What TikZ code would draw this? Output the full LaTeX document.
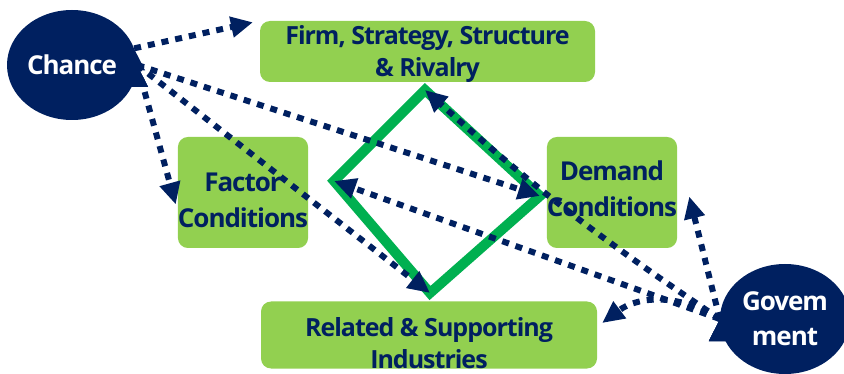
\documentclass[tikz,border=0pt]{standalone}
\usepackage{fontspec}
\setmainfont[LetterSpace=-4]{Open Sans}
\usetikzlibrary{shapes,arrows.meta}
\usepackage{xcolor}
\definecolor{navy}{HTML}{002060}
\definecolor{leaf}{HTML}{92D050}
\definecolor{porterGreen}{HTML}{00B050}

\begin{document}
\begin{tikzpicture}[
  x=1pt,y=-1pt,
  every node/.style={align=center},
  force/.style={ellipse,fill=navy,text=white,inner sep=0pt,minimum width=130pt,
minimum height=110pt,font=\bfseries\fontsize{26}{35}\selectfont},
  determinant/.style={fill=leaf,rounded corners=10pt,text=navy,inner
sep=0pt,font=\bfseries\fontsize{25}{32}\selectfont},
  bigDeterminant/.style={determinant,minimum width=130pt,font=\bfseries\fontsize{26}{36}\selectfont},
  diamondLink/.style={line width=10pt,porterGreen,line join=miter},
  forceToDeterminant/.style={-{Triangle[length=22pt,width=20pt]},line width=6pt,navy,dash
pattern=on 7pt off 7pt}]

  \useasboundingbox (0,0) rectangle (844,374);

  % the four determinants
  \node[determinant,minimum width=335pt,text height=56pt,text depth=5pt] (firm) at (427.5,51.5)
{Firm, Strategy, Structure\\\& Rivalry};
  \node[bigDeterminant,text height=91pt,text depth=20pt] (factor) at (243,192.5) {Factor\\Conditions};
  \node[bigDeterminant,text height=80pt,text depth=31pt] (demand) at (612,192.5) {Demand\\Conditions};
  \node[determinant,minimum width=336pt,text height=67pt,text depth=-3pt] (related) at (429,335)
{Related \& Supporting\\Industries};

  % outside forces
  \node[force] (chance) at (72,65) {Chance};
  \node[force] (govt) at (785,319) {Govem\\ment};

  % the diamond
  \coordinate (dTop) at (425,90);
  \coordinate (dRight) at (540,196);
  \coordinate (dBot) at (430,293);
  \coordinate (dLeft) at (334,181);
  \draw [diamondLink] (dTop) -- (dRight) -- (dBot) -- (dLeft) -- cycle;

  % chance to determinants
  \draw [forceToDeterminant] (chance.15) edge[shorten >=7pt] (firm.north west);
  \draw [forceToDeterminant] (chance.east) edge ([shift={(-2,12)}]factor.west);
  \draw [forceToDeterminant] (chance.east) edge (dBot);
  \draw [forceToDeterminant] (chance.east) edge (dRight);

  % government to determinants
  \draw [forceToDeterminant] (govt.west) edge[bend left=4] (dTop);
  \draw [forceToDeterminant] (govt.west) edge (dLeft);
  \draw [forceToDeterminant] (govt.west) edge ([shift={(12,4)}]demand.east);
  \draw [forceToDeterminant] (govt.west) edge[bend right=35] ([shift={(5,-12)}]related.east);
\end{tikzpicture}
\end{document}
